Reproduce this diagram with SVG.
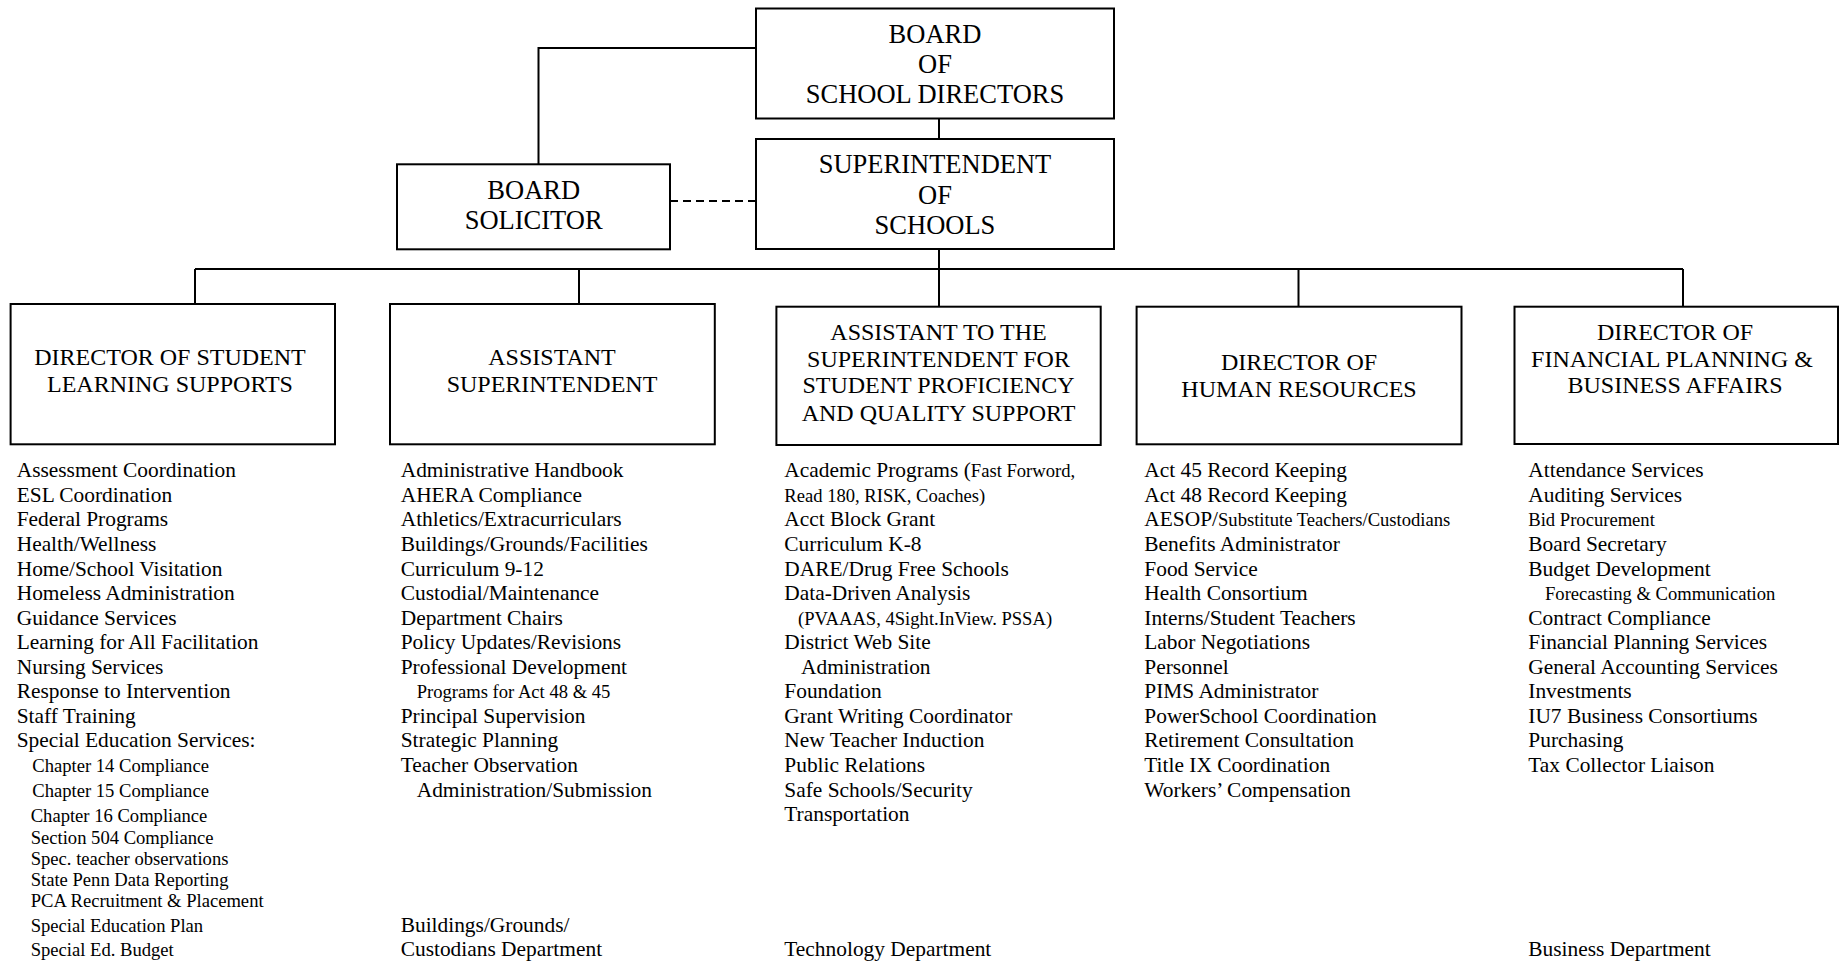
<svg xmlns="http://www.w3.org/2000/svg" width="1843" height="963" viewBox="0 0 1843 963">
<style>
  .box { fill: #ffffff; stroke: #000000; stroke-width: 2; }
  .ln { fill: none; stroke: #000000; stroke-width: 2; }
  .dash { fill: none; stroke: #000000; stroke-width: 2; stroke-dasharray: 8 5; }
  text { font-family: "Liberation Serif", "Times New Roman", serif; fill: #000000; }
  .h1 { font-size: 26.5px; text-anchor: middle; }
  .h2 { font-size: 24px; text-anchor: middle; }
  .it { font-size: 21.4px; }
  .sm { font-size: 18.6px; }
</style>
<rect width="1843" height="963" fill="#ffffff"/>

<g id="connectors">
  <polyline class="ln" points="756,48 538.5,48 538.5,164"/>
  <line class="ln" x1="939" y1="118" x2="939" y2="139"/>
  <line class="dash" x1="670" y1="201" x2="756" y2="201"/>
  <line class="ln" x1="939" y1="249" x2="939" y2="306.7"/>
  <line class="ln" x1="195" y1="269" x2="1683" y2="269"/>
  <line class="ln" x1="195" y1="269" x2="195" y2="304"/>
  <line class="ln" x1="579" y1="269" x2="579" y2="304"/>
  <line class="ln" x1="1298.5" y1="269" x2="1298.5" y2="306.7"/>
  <line class="ln" x1="1683" y1="269" x2="1683" y2="306.7"/>
</g>

<g id="board">
  <rect class="box" x="756" y="8.5" width="358" height="110"/>
  <text class="h1" x="935" y="43.3">BOARD</text>
  <text class="h1" x="935" y="73.3">OF</text>
  <text class="h1" x="935" y="103.3">SCHOOL DIRECTORS</text>
</g>

<g id="superintendent">
  <rect class="box" x="756" y="139" width="358" height="110"/>
  <text class="h1" x="935" y="173.3">SUPERINTENDENT</text>
  <text class="h1" x="935" y="204">OF</text>
  <text class="h1" x="935" y="234.3">SCHOOLS</text>
</g>

<g id="solicitor">
  <rect class="box" x="397" y="164.3" width="273" height="85"/>
  <text class="h1" x="533.7" y="199">BOARD</text>
  <text class="h1" x="533.7" y="229.3">SOLICITOR</text>
</g>

<g id="student-learning">
  <rect class="box" x="10.6" y="304" width="324.4" height="140.3"/>
  <text class="h2" x="170" y="365">DIRECTOR OF STUDENT</text>
  <text class="h2" x="170" y="391.7">LEARNING SUPPORTS</text>
  <text class="it" x="16.7" y="477.3">Assessment Coordination</text>
  <text class="it" x="16.7" y="501.9">ESL Coordination</text>
  <text class="it" x="16.7" y="526.4">Federal Programs</text>
  <text class="it" x="16.7" y="551">Health/Wellness</text>
  <text class="it" x="16.7" y="575.5">Home/School Visitation</text>
  <text class="it" x="16.7" y="600.1">Homeless Administration</text>
  <text class="it" x="16.7" y="624.6">Guidance Services</text>
  <text class="it" x="16.7" y="649.2">Learning for All Facilitation</text>
  <text class="it" x="16.7" y="673.7">Nursing Services</text>
  <text class="it" x="16.7" y="698.3">Response to Intervention</text>
  <text class="it" x="16.7" y="722.8">Staff Training</text>
  <text class="it" x="16.7" y="747.4">Special Education Services:</text>
  <text class="sm" x="32.3" y="771.7">Chapter 14 Compliance</text>
  <text class="sm" x="32.3" y="796.7">Chapter 15 Compliance</text>
  <text class="sm" x="30.7" y="821.7">Chapter 16 Compliance</text>
  <text class="sm" x="30.7" y="844.3">Section 504 Compliance</text>
  <text class="sm" x="30.7" y="865">Spec. teacher observations</text>
  <text class="sm" x="30.7" y="886">State Penn Data Reporting</text>
  <text class="sm" x="30.7" y="907.3">PCA Recruitment &amp; Placement</text>
  <text class="sm" x="30.7" y="931.7">Special Education Plan</text>
  <text class="sm" x="30.7" y="956">Special Ed. Budget</text>
</g>

<g id="assistant-superintendent">
  <rect class="box" x="390" y="304" width="324.8" height="140.3"/>
  <text class="h2" x="552" y="365">ASSISTANT</text>
  <text class="h2" x="552" y="391.7">SUPERINTENDENT</text>
  <text class="it" x="400.7" y="477.3">Administrative Handbook</text>
  <text class="it" x="400.7" y="501.9">AHERA Compliance</text>
  <text class="it" x="400.7" y="526.4">Athletics/Extracurriculars</text>
  <text class="it" x="400.7" y="551">Buildings/Grounds/Facilities</text>
  <text class="it" x="400.7" y="575.5">Curriculum 9-12</text>
  <text class="it" x="400.7" y="600.1">Custodial/Maintenance</text>
  <text class="it" x="400.7" y="624.6">Department Chairs</text>
  <text class="it" x="400.7" y="649.2">Policy Updates/Revisions</text>
  <text class="it" x="400.7" y="673.7">Professional Development</text>
  <text class="sm" x="416.7" y="698.3">Programs for Act 48 &amp; 45</text>
  <text class="it" x="400.7" y="722.8">Principal Supervision</text>
  <text class="it" x="400.7" y="747.4">Strategic Planning</text>
  <text class="it" x="400.7" y="771.9">Teacher Observation</text>
  <text class="it" x="416.7" y="796.5">Administration/Submission</text>
  <text class="it" x="400.7" y="931.7">Buildings/Grounds/</text>
  <text class="it" x="400.7" y="956">Custodians Department</text>
</g>

<g id="student-proficiency">
  <rect class="box" x="776.4" y="306.7" width="324.3" height="138.3"/>
  <text class="h2" x="938.5" y="340">ASSISTANT TO THE</text>
  <text class="h2" x="938.5" y="366.7">SUPERINTENDENT FOR</text>
  <text class="h2" x="938.5" y="393.3">STUDENT PROFICIENCY</text>
  <text class="h2" x="938.5" y="421">AND QUALITY SUPPORT</text>
  <text class="it" x="784.3" y="477.3">Academic Programs (<tspan class="sm">Fast Forword,</tspan></text>
  <text class="sm" x="784.3" y="501.9">Read 180, RISK, Coaches)</text>
  <text class="it" x="784.3" y="526.4">Acct Block Grant</text>
  <text class="it" x="784.3" y="551">Curriculum K-8</text>
  <text class="it" x="784.3" y="575.5">DARE/Drug Free Schools</text>
  <text class="it" x="784.3" y="600.1">Data-Driven Analysis</text>
  <text class="sm" x="798" y="624.6">(PVAAAS, 4Sight.InView. PSSA)</text>
  <text class="it" x="784.3" y="649.2">District Web Site</text>
  <text class="it" x="801" y="673.7">Administration</text>
  <text class="it" x="784.3" y="698.3">Foundation</text>
  <text class="it" x="784.3" y="722.8">Grant Writing Coordinator</text>
  <text class="it" x="784.3" y="747.4">New Teacher Induction</text>
  <text class="it" x="784.3" y="771.9">Public Relations</text>
  <text class="it" x="784.3" y="796.5">Safe Schools/Security</text>
  <text class="it" x="784.3" y="821">Transportation</text>
  <text class="it" x="784.3" y="956">Technology Department</text>
</g>

<g id="human-resources">
  <rect class="box" x="1136.6" y="306.7" width="324.9" height="137.6"/>
  <text class="h2" x="1299" y="370">DIRECTOR OF</text>
  <text class="h2" x="1299" y="396.7">HUMAN RESOURCES</text>
  <text class="it" x="1144.3" y="477.3">Act 45 Record Keeping</text>
  <text class="it" x="1144.3" y="501.9">Act 48 Record Keeping</text>
  <text class="it" x="1144.3" y="526.4">AESOP/<tspan class="sm">Substitute Teachers/Custodians</tspan></text>
  <text class="it" x="1144.3" y="551">Benefits Administrator</text>
  <text class="it" x="1144.3" y="575.5">Food Service</text>
  <text class="it" x="1144.3" y="600.1">Health Consortium</text>
  <text class="it" x="1144.3" y="624.6">Interns/Student Teachers</text>
  <text class="it" x="1144.3" y="649.2">Labor Negotiations</text>
  <text class="it" x="1144.3" y="673.7">Personnel</text>
  <text class="it" x="1144.3" y="698.3">PIMS Administrator</text>
  <text class="it" x="1144.3" y="722.8">PowerSchool Coordination</text>
  <text class="it" x="1144.3" y="747.4">Retirement Consultation</text>
  <text class="it" x="1144.3" y="771.9">Title IX Coordination</text>
  <text class="it" x="1144.3" y="796.5">Workers’ Compensation</text>
</g>

<g id="financial-planning">
  <rect class="box" x="1514.5" y="306.7" width="323.5" height="137.3"/>
  <text class="h2" x="1675" y="340">DIRECTOR OF</text>
  <text class="h2" x="1672" y="366.7">FINANCIAL PLANNING &amp;</text>
  <text class="h2" x="1675" y="393.3">BUSINESS AFFAIRS</text>
  <text class="it" x="1528.3" y="477.3">Attendance Services</text>
  <text class="it" x="1528.3" y="501.9">Auditing Services</text>
  <text class="sm" x="1528.3" y="526.4">Bid Procurement</text>
  <text class="it" x="1528.3" y="551">Board Secretary</text>
  <text class="it" x="1528.3" y="575.5">Budget Development</text>
  <text class="sm" x="1545" y="600.1">Forecasting &amp; Communication</text>
  <text class="it" x="1528.3" y="624.6">Contract Compliance</text>
  <text class="it" x="1528.3" y="649.2">Financial Planning Services</text>
  <text class="it" x="1528.3" y="673.7">General Accounting Services</text>
  <text class="it" x="1528.3" y="698.3">Investments</text>
  <text class="it" x="1528.3" y="722.8">IU7 Business Consortiums</text>
  <text class="it" x="1528.3" y="747.4">Purchasing</text>
  <text class="it" x="1528.3" y="771.9">Tax Collector Liaison</text>
  <text class="it" x="1528.3" y="956">Business Department</text>
</g>
</svg>
